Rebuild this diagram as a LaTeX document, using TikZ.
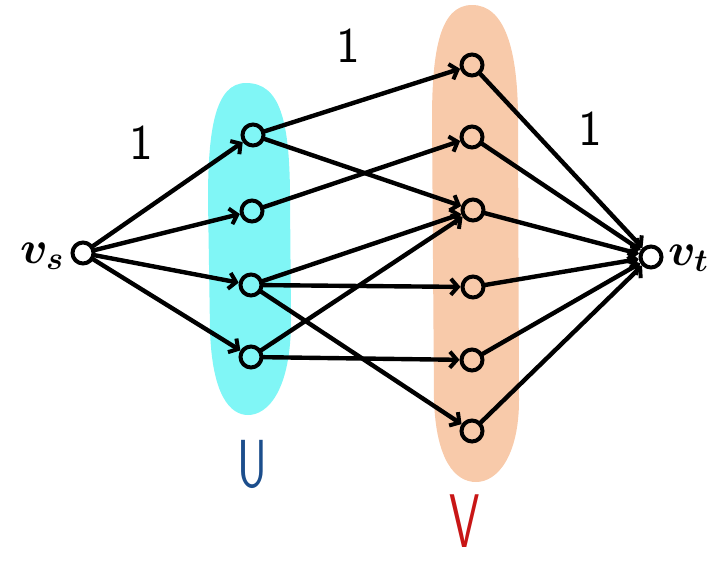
\RequirePackage{fix-cm}
\documentclass[tikz,border=0pt]{standalone}
\usetikzlibrary{arrows.meta}
\definecolor{cyanfill}{RGB}{128,246,246}
\definecolor{peachfill}{RGB}{248,202,170}
\definecolor{ublue}{RGB}{28,78,140}
\definecolor{vred}{RGB}{200,22,22}
\begin{document}
\begin{tikzpicture}[x=1pt,y=-1pt,
  vert/.style={circle,draw,line width=4pt,minimum size=21pt,inner sep=0pt},
  edge/.style={line width=4.4pt,line cap=round,-{Straight Barb[length=7pt,width=16pt,line width=4pt]}},
  weight/.style={font=\sffamily\fontsize{50}{50}\selectfont},
  vlabel/.style={font=\boldmath\fontsize{46}{46}\selectfont,inner sep=0pt}]
\useasboundingbox (0,0) rectangle (725,563);
% groups
\fill[cyanfill] (246,83) .. controls (215,83) and (208,130) .. (208,200)
  -- (210,330) .. controls (212,395) and (230,415) .. (248,415)
  .. controls (268,415) and (291,390) .. (291,320)
  -- (290,200) .. controls (290,120) and (280,83) .. (246,83) -- cycle;
\fill[peachfill] (472,5) .. controls (440,5) and (432,50) .. (432,120)
  -- (434,400) .. controls (436,460) and (455,482) .. (476,482)
  .. controls (498,482) and (519,455) .. (519,400)
  -- (518,120) .. controls (518,50) and (505,5) .. (472,5) -- cycle;
% vertices
\node[vert] (s) at (83,253) {};
\node[vert] (u1) at (253,135) {};
\node[vert] (u2) at (252,211) {};
\node[vert] (u3) at (251,285) {};
\node[vert] (u4) at (251,357) {};
\node[vert] (v1) at (472,65) {};
\node[vert] (v2) at (472,137) {};
\node[vert] (v3) at (473,210) {};
\node[vert] (v4) at (473,287) {};
\node[vert] (v5) at (472,360) {};
\node[vert] (v6) at (472,431) {};
\node[vert] (t) at (651,257) {};
% labels
\node[vlabel,anchor=base east] (ls) at (64,263) {$v_s$};
\node[vlabel,anchor=base west] (lt) at (668,265) {$v_t$};
\node[weight] (w1) at (141,143) {1};
\node[weight] (w2) at (348,46) {1};
\node[weight] (w3) at (590,129) {1};
\node[font=\sffamily\fontsize{68}{68}\selectfont,text=ublue,xscale=0.68,inner sep=0pt,anchor=base] (lu) at (252,487) {U};
\node[font=\sffamily\fontsize{76}{76}\selectfont,text=vred,xscale=0.64,inner sep=0pt,anchor=base] (lv) at (465,547) {V};
% edges
\foreach \u in {u1,u2,u3,u4} \draw[edge] (s) -- (\u);
\draw[edge] (u1) -- (v1);
\draw[edge] (u1) -- (v3);
\draw[edge] (u2) -- (v2);
\draw[edge] (u3) -- (v3);
\draw[edge] (u3) -- (v4);
\draw[edge] (u3) -- (v6);
\draw[edge] (u4) -- (v3);
\draw[edge] (u4) -- (v5);
\foreach \v in {v1,v2,v3,v4,v5,v6} \draw[edge] (\v) -- (t);
\end{tikzpicture}
\end{document}
